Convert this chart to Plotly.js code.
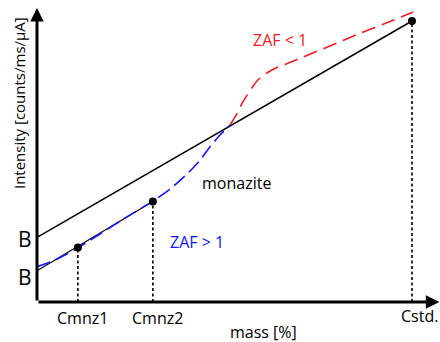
<!DOCTYPE html>
<html>
<head>
<meta charset="utf-8">
<script src="https://cdn.plot.ly/plotly-3.0.1.min.js"></script>
<style>html,body{margin:0;padding:0;background:#fff;}#chart{width:440px;height:342px;}</style>
</head>
<body>
<div id="chart"></div>
<script>
// Points: mass [%] and intensity (arbitrary units, Cstd = 100)
var pointLabels = ['Cmnz1', 'Cmnz2', 'Cstd.'];
var pointMass = [10.9, 30.9, 100];
var pointIntensity = [19.4, 35.8, 100];

// Background intercepts B
var bUpper = 23.0;
var bLower = 11.1;

// ZAF > 1 curve (blue)
var blueMass = [0, 3.5, 7.5, 10.9, 16.8, 23.5, 30.9, 35.5, 40.3, 43.5, 46.1, 48.8, 51.5];
var blueIntensity = [12.5, 14.2, 16.7, 19.3, 24.2, 29.9, 35.9, 40.2, 45.9, 50.5, 55.2, 59.4, 63.0];

// ZAF < 1 curve (red)
var redMass = [51.5, 53.1, 54.9, 57.3, 58.9, 61.3, 63.7, 66.1, 70.1, 78.1, 86.1, 94.1, 100.3];
var redIntensity = [63.0, 66.5, 71.2, 76.2, 79.0, 81.5, 83.3, 84.5, 86.7, 91.1, 95.6, 99.8, 103.2];

var FONT = 'Open Sans, Noto Sans, sans-serif';
var traces = [];

// dotted drop lines
for (var i = 0; i < pointMass.length; i++) {
  traces.push({x: [pointMass[i], pointMass[i]], y: [0, pointIntensity[i]], mode: 'lines',
    line: {color: '#000', width: 1.6, dash: '3px,2.5px'}, hoverinfo: 'skip'});
}
// standard line
traces.push({x: [0, pointMass[2]], y: [bUpper, pointIntensity[2]], mode: 'lines',
  line: {color: '#000', width: 1.5}});
// monazite line
traces.push({x: [0, pointMass[1]], y: [bLower, pointIntensity[1]], mode: 'lines',
  line: {color: '#000', width: 1.2}});
// blue
traces.push({x: blueMass, y: blueIntensity, mode: 'lines', line: {color: '#1515ff', width: 1.6, dash: '14px,6px', shape: 'spline', smoothing: 0.6}});
// red
traces.push({x: redMass, y: redIntensity, mode: 'lines', line: {color: '#ee1c24', width: 1.6, dash: '14px,7px', shape: 'spline', smoothing: 0.6}});
// points
traces.push({x: pointMass, y: pointIntensity, mode: 'markers', marker: {color: '#000', size: 8}, cliponaxis: false});

function lbl(x, y, t, opts) {
  var a = {x: x, y: y, xref: 'x', yref: 'y', text: t, showarrow: false,
    font: {family: FONT, size: 16, color: '#000'}, xanchor: 'center', yanchor: 'middle'};
  for (var k in opts) a[k] = opts[k];
  return a;
}

var annotations = [
  // axes arrows
  {x: 107.3, y: 0, ax: 0, ay: 0, axref: 'x', ayref: 'y', xref: 'x', yref: 'y', text: '', showarrow: true,
    arrowhead: 2, arrowsize: 0.9, arrowwidth: 3, arrowcolor: '#000', standoff: 0},
  {x: 0, y: 104.6, ax: 0, ay: 0, axref: 'x', ayref: 'y', xref: 'x', yref: 'y', text: '', showarrow: true,
    arrowhead: 2, arrowsize: 0.9, arrowwidth: 3, arrowcolor: '#000', standoff: 0},
  lbl(-3.2, 22.4, 'B', {font: {family: FONT, size: 21, color: '#000'}}),
  lbl(-3.2, 8.9, 'B', {font: {family: FONT, size: 21, color: '#000'}}),
  lbl(-4.8, 70.8, 'Intensity [counts/ms/μA]', {textangle: -90, font: {family: FONT, size: 15, color: '#000'}}),
  lbl(12.0, -5.7, pointLabels[0]),
  lbl(32.0, -5.7, pointLabels[1]),
  lbl(101.9, -5.0, pointLabels[2]),
  lbl(60.3, -10.7, 'mass [%]', {font: {family: FONT, size: 16, color: '#000'}}),
  lbl(64.8, 93.2, 'ZAF &lt; 1', {font: {family: FONT, size: 16, color: '#ee1c24'}}),
  lbl(53.1, 42.3, 'monazite'),
  lbl(42.7, 21.2, 'ZAF &gt; 1', {font: {family: FONT, size: 16, color: '#1515ff'}})
];

var layout = {
  width: 440, height: 342,
  margin: {l: 0, r: 0, t: 0, b: 0},
  paper_bgcolor: '#fff', plot_bgcolor: '#fff',
  showlegend: false,
  xaxis: {range: [-9.867, 107.47], showgrid: false, zeroline: false, showticklabels: false, showline: false, ticks: '', fixedrange: true},
  yaxis: {range: [-14.235, 107.47], showgrid: false, zeroline: false, showticklabels: false, showline: false, ticks: '', fixedrange: true},
  annotations: annotations,
  font: {family: FONT}
};

Plotly.newPlot('chart', traces, layout, {staticPlot: true, displayModeBar: false});
</script>
</body>
</html>
